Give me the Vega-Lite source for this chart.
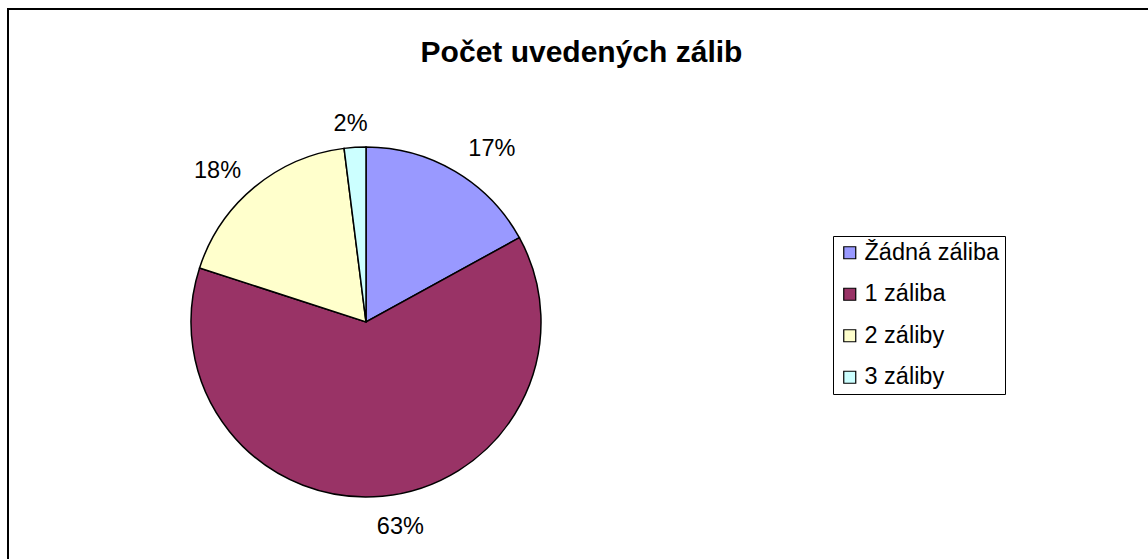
{
  "$schema": "https://vega.github.io/schema/vega-lite/v6.json",
  "autosize": "none",
  "width": 1141,
  "height": 551,
  "padding": {"left": 7, "top": 8, "right": 0, "bottom": 0},
  "background": "white",
  "title": {
    "text": "Počet uvedených zálib",
    "font": "Liberation Sans",
    "fontSize": 30,
    "fontWeight": "bold",
    "color": "black",
    "anchor": "middle",
    "frame": "group",
    "dx": 4,
    "offset": -60
  },
  "datasets": {
    "zaliby": [
      {"i": 1, "kat": "Žádná záliba", "pct": 17, "lab": "17%"},
      {"i": 2, "kat": "1 záliba", "pct": 63, "lab": "63%"},
      {"i": 3, "kat": "2 záliby", "pct": 18, "lab": "18%"},
      {"i": 4, "kat": "3 záliby", "pct": 2, "lab": "2%"}
    ],
    "ramec": [{"r": 1}]
  },
  "data": {"name": "zaliby"},
  "layer": [
    {
      "data": {"name": "ramec"},
      "mark": {"type": "rect", "fill": "white", "stroke": "black", "strokeWidth": 2, "clip": true},
      "encoding": {
        "x": {"value": 1},
        "x2": {"value": 1300},
        "y": {"value": 1},
        "y2": {"value": 700}
      }
    },
    {
      "mark": {"type": "arc", "outerRadius": 175, "x": 359, "y": 314, "stroke": "black", "strokeWidth": 1.5},
      "encoding": {
        "theta": {"field": "pct", "type": "quantitative", "stack": true},
        "order": {"field": "i", "type": "quantitative"},
        "color": {
          "field": "kat",
          "type": "nominal",
          "sort": null,
          "scale": {
            "domain": ["Žádná záliba", "1 záliba", "2 záliby", "3 záliby"],
            "range": ["#9999FF", "#993366", "#FFFFCC", "#CCFFFF"]
          },
          "legend": {
            "title": null,
            "orient": "none",
            "legendX": 826,
            "legendY": 228,
            "strokeColor": "black",
            "fillColor": "white",
            "padding": 5,
            "symbolType": "square",
            "symbolSize": 144,
            "symbolStrokeColor": "black",
            "symbolStrokeWidth": 1.2,
            "labelFont": "Liberation Sans",
            "labelFontSize": 23.5,
            "labelColor": "black",
            "labelOffset": 3,
            "rowPadding": 16.5,
            "labelLimit": 300
          }
        }
      }
    },
    {
      "mark": {"type": "text", "radius": 201, "x": 359, "y": 314, "align": "left", "baseline": "middle", "font": "Liberation Sans", "fontSize": 23.5, "color": "black"},
      "encoding": {
        "theta": {"field": "pct", "type": "quantitative", "stack": true},
        "order": {"field": "i", "type": "quantitative"},
        "text": {"condition": {"test": "datum.i == 1", "field": "lab"}, "value": ""}
      }
    },
    {
      "mark": {"type": "text", "radius": 196, "x": 359, "y": 314, "align": "right", "baseline": "middle", "font": "Liberation Sans", "fontSize": 23.5, "color": "black"},
      "encoding": {
        "theta": {"field": "pct", "type": "quantitative", "stack": true},
        "order": {"field": "i", "type": "quantitative"},
        "text": {"condition": {"test": "datum.i == 3", "field": "lab"}, "value": ""}
      }
    },
    {
      "mark": {"type": "text", "radius": 206, "x": 359, "y": 314, "dx": 15, "align": "center", "baseline": "middle", "font": "Liberation Sans", "fontSize": 23.5, "color": "black"},
      "encoding": {
        "theta": {"field": "pct", "type": "quantitative", "stack": true},
        "order": {"field": "i", "type": "quantitative"},
        "text": {"condition": {"test": "datum.i == 2", "field": "lab"}, "value": ""}
      }
    },
    {
      "mark": {"type": "text", "radius": 198, "x": 359, "y": 314, "dx": -3, "align": "center", "baseline": "middle", "font": "Liberation Sans", "fontSize": 23.5, "color": "black"},
      "encoding": {
        "theta": {"field": "pct", "type": "quantitative", "stack": true},
        "order": {"field": "i", "type": "quantitative"},
        "text": {"condition": {"test": "datum.i == 4", "field": "lab"}, "value": ""}
      }
    }
  ]
}
